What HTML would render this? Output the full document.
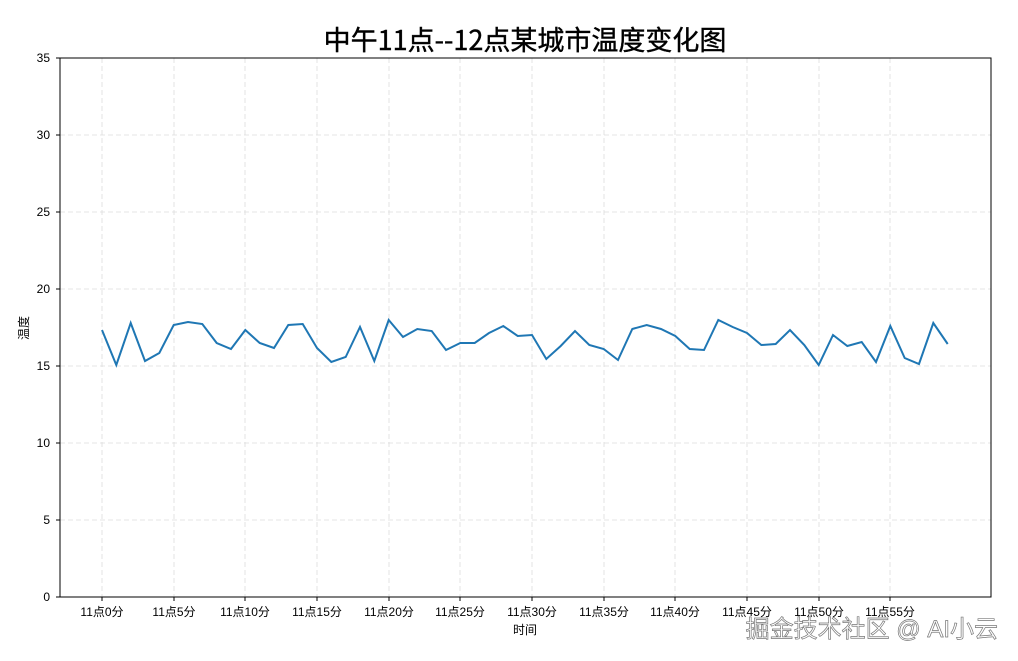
<!DOCTYPE html>
<html><head><meta charset="utf-8"><style>body{margin:0;background:#fff}svg{display:block}text{font-family:"Liberation Sans","Noto Sans CJK SC",sans-serif;fill:#000}</style></head><body>
<svg width="1018" height="661" xmlns="http://www.w3.org/2000/svg">
<text x="525" y="50" font-size="27" text-anchor="middle" stroke="#000" stroke-width="0.4" style="font-family:'WenQuanYi Zen Hei','Noto Sans CJK SC',sans-serif">中午11点--12点某城市温度变化图</text>
<g stroke="#dcdcdc" stroke-dasharray="5,3" stroke-width="0.8">
<line x1="60" x2="991" y1="520" y2="520"/><line x1="60" x2="991" y1="443" y2="443"/><line x1="60" x2="991" y1="366" y2="366"/><line x1="60" x2="991" y1="289" y2="289"/><line x1="60" x2="991" y1="212" y2="212"/><line x1="60" x2="991" y1="135" y2="135"/>
<line y1="58" y2="597" x1="102" x2="102"/><line y1="58" y2="597" x1="174" x2="174"/><line y1="58" y2="597" x1="245" x2="245"/><line y1="58" y2="597" x1="317" x2="317"/><line y1="58" y2="597" x1="389" x2="389"/><line y1="58" y2="597" x1="460" x2="460"/><line y1="58" y2="597" x1="532" x2="532"/><line y1="58" y2="597" x1="604" x2="604"/><line y1="58" y2="597" x1="675" x2="675"/><line y1="58" y2="597" x1="747" x2="747"/><line y1="58" y2="597" x1="819" x2="819"/><line y1="58" y2="597" x1="890" x2="890"/>
</g>
<rect x="60" y="58" width="931" height="539" fill="none" stroke="#000" stroke-width="1"/>
<g font-size="12" text-anchor="end">
<text x="50" y="601">0</text><text x="50" y="524">5</text><text x="50" y="447">10</text><text x="50" y="370">15</text><text x="50" y="293">20</text><text x="50" y="216">25</text><text x="50" y="139">30</text><text x="50" y="62">35</text>
</g>
<g stroke="#000"><line x1="56" x2="60" y1="597" y2="597"/><line x1="56" x2="60" y1="520" y2="520"/><line x1="56" x2="60" y1="443" y2="443"/><line x1="56" x2="60" y1="366" y2="366"/><line x1="56" x2="60" y1="289" y2="289"/><line x1="56" x2="60" y1="212" y2="212"/><line x1="56" x2="60" y1="135" y2="135"/><line x1="56" x2="60" y1="58" y2="58"/></g>
<g font-size="12" text-anchor="middle">
<text x="102" y="616">11点0分</text><text x="174" y="616">11点5分</text><text x="245" y="616">11点10分</text><text x="317" y="616">11点15分</text><text x="389" y="616">11点20分</text><text x="460" y="616">11点25分</text><text x="532" y="616">11点30分</text><text x="604" y="616">11点35分</text><text x="675" y="616">11点40分</text><text x="747" y="616">11点45分</text><text x="819" y="616">11点50分</text><text x="890" y="616">11点55分</text>
<text x="525" y="634">时间</text>
<text transform="translate(28,328) rotate(-90)">温度</text>
</g>
<g stroke="#000"><line y1="597" y2="601" x1="102" x2="102"/><line y1="597" y2="601" x1="174" x2="174"/><line y1="597" y2="601" x1="245" x2="245"/><line y1="597" y2="601" x1="317" x2="317"/><line y1="597" y2="601" x1="389" x2="389"/><line y1="597" y2="601" x1="460" x2="460"/><line y1="597" y2="601" x1="532" x2="532"/><line y1="597" y2="601" x1="604" x2="604"/><line y1="597" y2="601" x1="675" x2="675"/><line y1="597" y2="601" x1="747" x2="747"/><line y1="597" y2="601" x1="819" x2="819"/><line y1="597" y2="601" x1="890" x2="890"/></g>
<polyline fill="none" stroke="#1f77b4" stroke-width="2" points="102,330 116.3,365 130.7,323 145,361 159.3,353 173.7,325 188,322 202.3,324 216.7,343 231,349 245.3,330 259.7,343 274,348 288.3,325 302.7,324 317,348 331.3,362 345.7,357 360,327 374.3,361 388.7,320 403,337 417.3,329 431.7,331 446,350 460.3,343 474.7,343 489,333 503.3,326 517.7,336 532,335 546.3,359 560.7,346 575,331 589.3,345 603.7,349 618,360 632.3,329 646.7,325 661,329 675.3,336 689.7,349 704,350 718.3,320 732.7,327 747,333 761.3,345 775.7,344 790,330 804.3,345 818.7,365 833,335 847.3,346 861.7,342 876,362 890.3,326 904.7,358 919,364 933.3,323 947.7,344"/>
<text x="998" y="637" font-size="24" text-anchor="end" stroke="#777" stroke-width="0.7" style="fill:#fff">掘金技术社区 @ AI小云</text>
</svg>
</body></html>
